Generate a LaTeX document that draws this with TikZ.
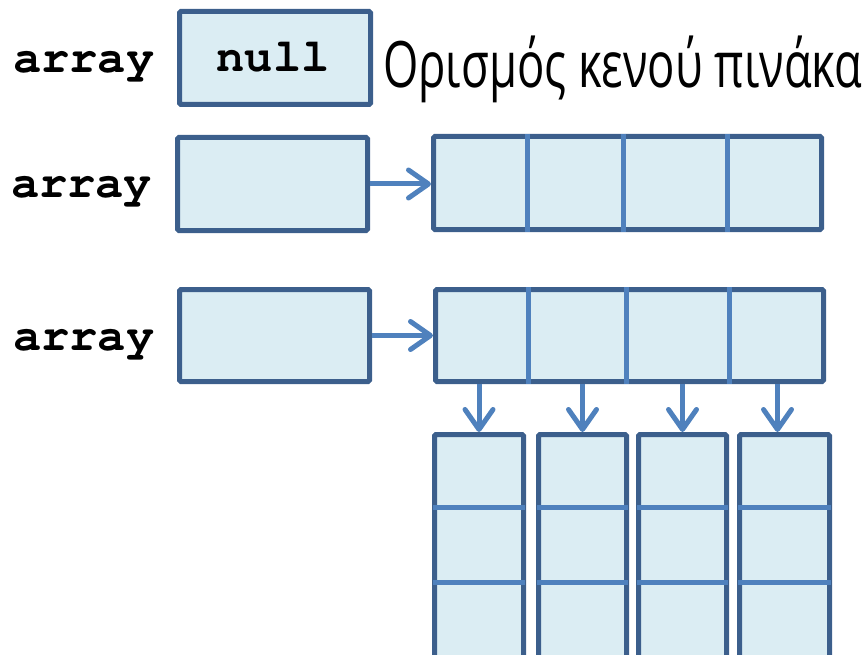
\documentclass[tikz,border=0pt]{standalone}
\usepackage{fontspec}
\setmainfont{Open Sans}
\newfontfamily\codefont[Extension=.otf,UprightFont=texgyrecursor-regular,BoldFont=texgyrecursor-bold]{texgyrecursor}
\usetikzlibrary{arrows.meta}
\definecolor{edge}{RGB}{60,95,140}
\definecolor{cellfill}{RGB}{219,237,243}
\definecolor{ptrblue}{RGB}{79,129,189}
\tikzset{
  cellbox/.style={draw=edge, fill=cellfill, line width=5pt, rounded corners=1.5pt, inner sep=0pt},
  divider/.style={draw=ptrblue, line width=5pt},
  ptr/.style={draw=ptrblue, line width=5pt, -{Straight Barb[length=20pt,width=28pt,round]}},
  code/.style={font=\codefont\bfseries\fontsize{47}{50}\selectfont, inner sep=0pt, anchor=base west},
}
\begin{document}
\begin{tikzpicture}[x=1pt,y=-1pt]
\useasboundingbox (0,0) rectangle (867,655);
\clip (0,0) rectangle (867,655);

% null reference
\node[cellbox, minimum width=191pt, minimum height=93pt] (nullbox) at (275,58) {};
\node[code, anchor=base] (nulltxt) at (273,72) {null};
\node[code] (lab1) at (13,73) {array};
\node[anchor=base west, inner sep=0pt, font=\fontsize{64}{70}\selectfont] (caption) at (383,88)
  {\resizebox{479pt}{\height}{Ορισμός κενού πινάκα}};

% one-dimensional array
\node[code] (lab2) at (11,198) {array};
\node[cellbox, minimum width=190pt, minimum height=93pt] (box2) at (272.5,184) {};
\node[cellbox, minimum width=388pt, minimum height=93pt] (arr1) at (627.5,183) {};
\foreach \d in {96,192,296}
  \draw[divider] ([xshift=\d pt]arr1.north west) -- ([xshift=\d pt]arr1.south west);
\draw[ptr] (box2.east) -- (box2.east -| arr1.west);

% two-dimensional array
\node[code] (lab3) at (13,350) {array};
\node[cellbox, minimum width=190pt, minimum height=92pt] (box3) at (274.5,335.5) {};
\node[cellbox, minimum width=388pt, minimum height=92pt] (arr2) at (629.5,335.5) {};
\foreach \d in {95,193,296}
  \draw[divider] ([xshift=\d pt]arr2.north west) -- ([xshift=\d pt]arr2.south west);
\draw[ptr] (box3.east) -- (box3.east -| arr2.west);

% rows of the two-dimensional array
\node[cellbox, minimum width=89pt, minimum height=285pt] (c1) at (479,577) {};
\node[cellbox, minimum width=88pt, minimum height=285pt] (c2) at (582.5,577) {};
\node[cellbox, minimum width=88pt, minimum height=285pt] (c3) at (682.5,577) {};
\node[cellbox, minimum width=90pt, minimum height=285pt] (c4) at (784.5,577) {};
\foreach \c in {c1,c2,c3,c4}
  \foreach \d in {75,150}
    \draw[divider, shorten <=1pt, shorten >=1pt]
      ([yshift=-\d pt]\c.north west) -- ([yshift=-\d pt]\c.north east);

\draw[ptr] (c1.north |- arr2.south) -- (c1.north);
\draw[ptr] (c2.north |- arr2.south) -- (c2.north);
\draw[ptr] (c3.north |- arr2.south) -- (c3.north);
\draw[ptr] ([xshift=-7pt]c4.north |- arr2.south) -- ([xshift=-7pt]c4.north);
\end{tikzpicture}
\end{document}
